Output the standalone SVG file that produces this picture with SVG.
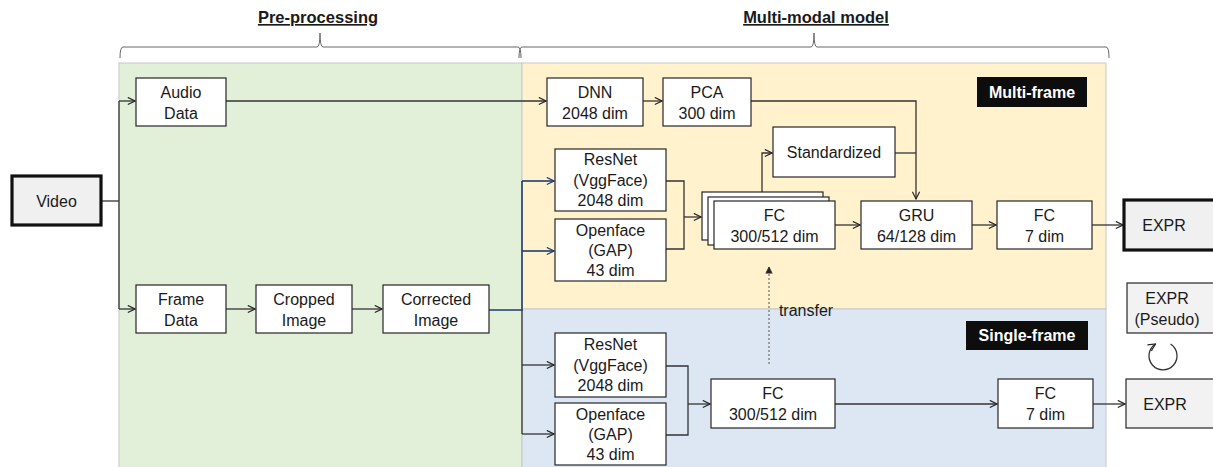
<svg xmlns="http://www.w3.org/2000/svg" width="1213" height="467" viewBox="0 0 1213 467">
<defs>
<marker id="ah" viewBox="0 0 10 10" refX="9" refY="5" markerWidth="9" markerHeight="9" markerUnits="userSpaceOnUse" orient="auto">
<path d="M1,1 L9,5 L1,9" fill="none" stroke="#262626" stroke-width="1.3"/>
</marker>
<marker id="ahb" viewBox="0 0 10 10" refX="9" refY="5" markerWidth="9" markerHeight="9" markerUnits="userSpaceOnUse" orient="auto">
<path d="M1,1 L9,5 L1,9" fill="none" stroke="#1f3b73" stroke-width="1.3"/>
</marker>
<marker id="ahs" viewBox="0 0 10 10" refX="9" refY="5" markerWidth="8" markerHeight="8" markerUnits="userSpaceOnUse" orient="auto">
<path d="M1,1 L9,5 L1,9" fill="#262626" stroke="#262626" stroke-width="1"/>
</marker>
</defs>
<style>
text{font-family:"Liberation Sans",Arial,sans-serif;font-size:16px;fill:#1a1a1a;text-anchor:middle}
.box{fill:#fff;stroke:#262626;stroke-width:1.2}
.gbox{fill:#f2f2f2;stroke:#262626;stroke-width:1.2}
.thick{fill:#f0f0f0;stroke:#111;stroke-width:3.2}
.ln{fill:none;stroke:#333;stroke-width:1.3}
.nv{fill:none;stroke:#1f3b73;stroke-width:1.6}
.br{fill:none;stroke:#666;stroke-width:1}
.lab{fill:#0d0d0d}
.labt{fill:#fff;font-weight:bold}
.hd{font-weight:bold;text-decoration:underline;font-size:16.5px}
</style>
<g id="regions">
<rect x="119" y="63" width="403" height="405" fill="#e2efd9" stroke="#c8c8c8"/>
<rect x="522" y="63" width="584" height="246" fill="#fff2cc" stroke="#c8c8c8"/>
<rect x="522" y="309" width="584" height="159" fill="#dde7f3" stroke="#c8c8c8"/>
</g>
<g id="headers">
<text class="hd" x="318" y="23">Pre-processing</text>
<path class="br" d="M120,58 Q120,47 123,47 L317,47 Q320,47 320,33 Q320,47 323,47 L518,47 Q521,47 521,58"/>
<text class="hd" x="816" y="23">Multi-modal model</text>
<path class="br" d="M519,58 Q519,47 522,47 L811,47 Q814,47 814,33 Q814,47 817,47 L1106,47 Q1109,47 1109,58"/>
</g>
<g id="connectors">
<path class="ln" d="M101,201 H119"/>
<path class="ln" d="M119,101 V309"/>
<path class="ln" d="M119,101 H135" marker-end="url(#ah)"/>
<path class="ln" d="M119,309 H135" marker-end="url(#ah)"/>
<path class="ln" d="M226,101 H546" marker-end="url(#ah)"/>
<path class="ln" d="M643,101 H662" marker-end="url(#ah)"/>
<path class="ln" d="M751,101 H916 V199" marker-end="url(#ah)"/>
<path class="ln" d="M895,153 H916"/>
<path class="ln" d="M226,309 H255" marker-end="url(#ah)"/>
<path class="ln" d="M352,309 H382" marker-end="url(#ah)"/>
<path class="nv" d="M489,310 H522 V181"/>
<path class="nv" d="M522,181 H554" marker-end="url(#ahb)"/>
<path class="nv" d="M522,251 H554" marker-end="url(#ahb)"/>
<path class="ln" d="M522,310 V434"/>
<path class="ln" d="M522,365 H554" marker-end="url(#ah)"/>
<path class="ln" d="M522,434 H554" marker-end="url(#ah)"/>
<path class="ln" d="M666,181 H684 V249 H666"/>
<path class="ln" d="M684,217 H701" marker-end="url(#ah)"/>
<path class="ln" d="M762,192 V153 H772" marker-end="url(#ah)"/>
<path class="ln" d="M835,225 H860" marker-end="url(#ah)"/>
<path class="ln" d="M972,225 H996" marker-end="url(#ah)"/>
<path class="ln" d="M1092,225 H1123" marker-end="url(#ah)"/>
<path class="ln" d="M666,366 H688 V435 H666"/>
<path class="ln" d="M688,404 H710" marker-end="url(#ah)"/>
<path class="ln" d="M835,404 H997" marker-end="url(#ah)"/>
<path class="ln" d="M1093,404 H1125" marker-end="url(#ah)"/>
<path fill="none" stroke="#555" stroke-width="1" stroke-dasharray="2,2" d="M769,364 V267" marker-end="url(#ahs)"/>
<text x="806" y="316">transfer</text>
<path class="ln" d="M1170.5,344 A14,14 0 1 1 1155.5,344" marker-end="url(#ah)"/>
</g>
<g id="video"><rect class="thick" x="12" y="176" width="89" height="49"/><text x="56.5" y="207">Video</text></g>
<g id="audio"><rect class="box" x="136" y="78" width="90" height="48"/><text x="181" y="98">Audio</text><text x="181" y="119">Data</text></g>
<g id="frame"><rect class="box" x="136" y="285" width="90" height="48"/><text x="181" y="305">Frame</text><text x="181" y="326">Data</text></g>
<g id="cropped"><rect class="box" x="256" y="285" width="96" height="48"/><text x="304" y="305">Cropped</text><text x="304" y="326">Image</text></g>
<g id="corrected"><rect class="box" x="383" y="285" width="106" height="48"/><text x="436" y="305">Corrected</text><text x="436" y="326">Image</text></g>
<g id="dnn"><rect class="box" x="547" y="78" width="96" height="48"/><text x="595" y="98">DNN</text><text x="595" y="119">2048 dim</text></g>
<g id="pca"><rect class="box" x="663" y="78" width="88" height="48"/><text x="707" y="98">PCA</text><text x="707" y="119">300 dim</text></g>
<g id="resnet-m"><rect class="box" x="555" y="149" width="111" height="62"/><text x="610.5" y="165">ResNet</text><text x="610.5" y="186">(VggFace)</text><text x="610.5" y="206">2048 dim</text></g>
<g id="openface-m"><rect class="box" x="555" y="219" width="111" height="62"/><text x="610.5" y="236">Openface</text><text x="610.5" y="256">(GAP)</text><text x="610.5" y="276">43 dim</text></g>
<g id="standardized"><rect class="box" x="773" y="127" width="122" height="50"/><text x="834" y="158">Standardized</text></g>
<g id="fc-m">
<rect class="box" x="702" y="192" width="121" height="48"/>
<rect class="box" x="708" y="197" width="121" height="48"/>
<rect class="box" x="714" y="201" width="121" height="48"/>
<text x="774.5" y="221">FC</text><text x="774.5" y="242">300/512 dim</text></g>
<g id="gru"><rect class="box" x="861" y="201" width="111" height="48"/><text x="916.5" y="221">GRU</text><text x="916.5" y="242">64/128 dim</text></g>
<g id="fc7-m"><rect class="box" x="997" y="201" width="95" height="48"/><text x="1044.5" y="221">FC</text><text x="1044.5" y="242">7 dim</text></g>
<g id="expr-m"><rect class="thick" x="1124" y="200" width="92" height="50"/><text x="1164" y="231">EXPR</text></g>
<g id="multi-frame"><rect class="lab" x="977" y="77" width="110" height="30"/><text class="labt" x="1032" y="98">Multi-frame</text></g>
<g id="single-frame"><rect class="lab" x="966" y="321" width="122" height="29"/><text class="labt" x="1027" y="341">Single-frame</text></g>
<g id="expr-pseudo"><rect class="gbox" x="1127" y="283" width="90" height="50"/><text x="1167" y="304">EXPR</text><text x="1167" y="325">(Pseudo)</text></g>
<g id="resnet-s"><rect class="box" x="555" y="333" width="111" height="64"/><text x="610.5" y="350">ResNet</text><text x="610.5" y="371">(VggFace)</text><text x="610.5" y="391">2048 dim</text></g>
<g id="openface-s"><rect class="box" x="555" y="403" width="111" height="62"/><text x="610.5" y="420">Openface</text><text x="610.5" y="440">(GAP)</text><text x="610.5" y="460">43 dim</text></g>
<g id="fc-s"><rect class="box" x="711" y="379" width="124" height="49"/><text x="773" y="399">FC</text><text x="773" y="420">300/512 dim</text></g>
<g id="fc7-s"><rect class="box" x="998" y="379" width="95" height="49"/><text x="1045.5" y="399">FC</text><text x="1045.5" y="420">7 dim</text></g>
<g id="expr-s"><rect class="gbox" x="1126" y="379" width="90" height="49"/><text x="1165" y="410">EXPR</text></g>
</svg>
